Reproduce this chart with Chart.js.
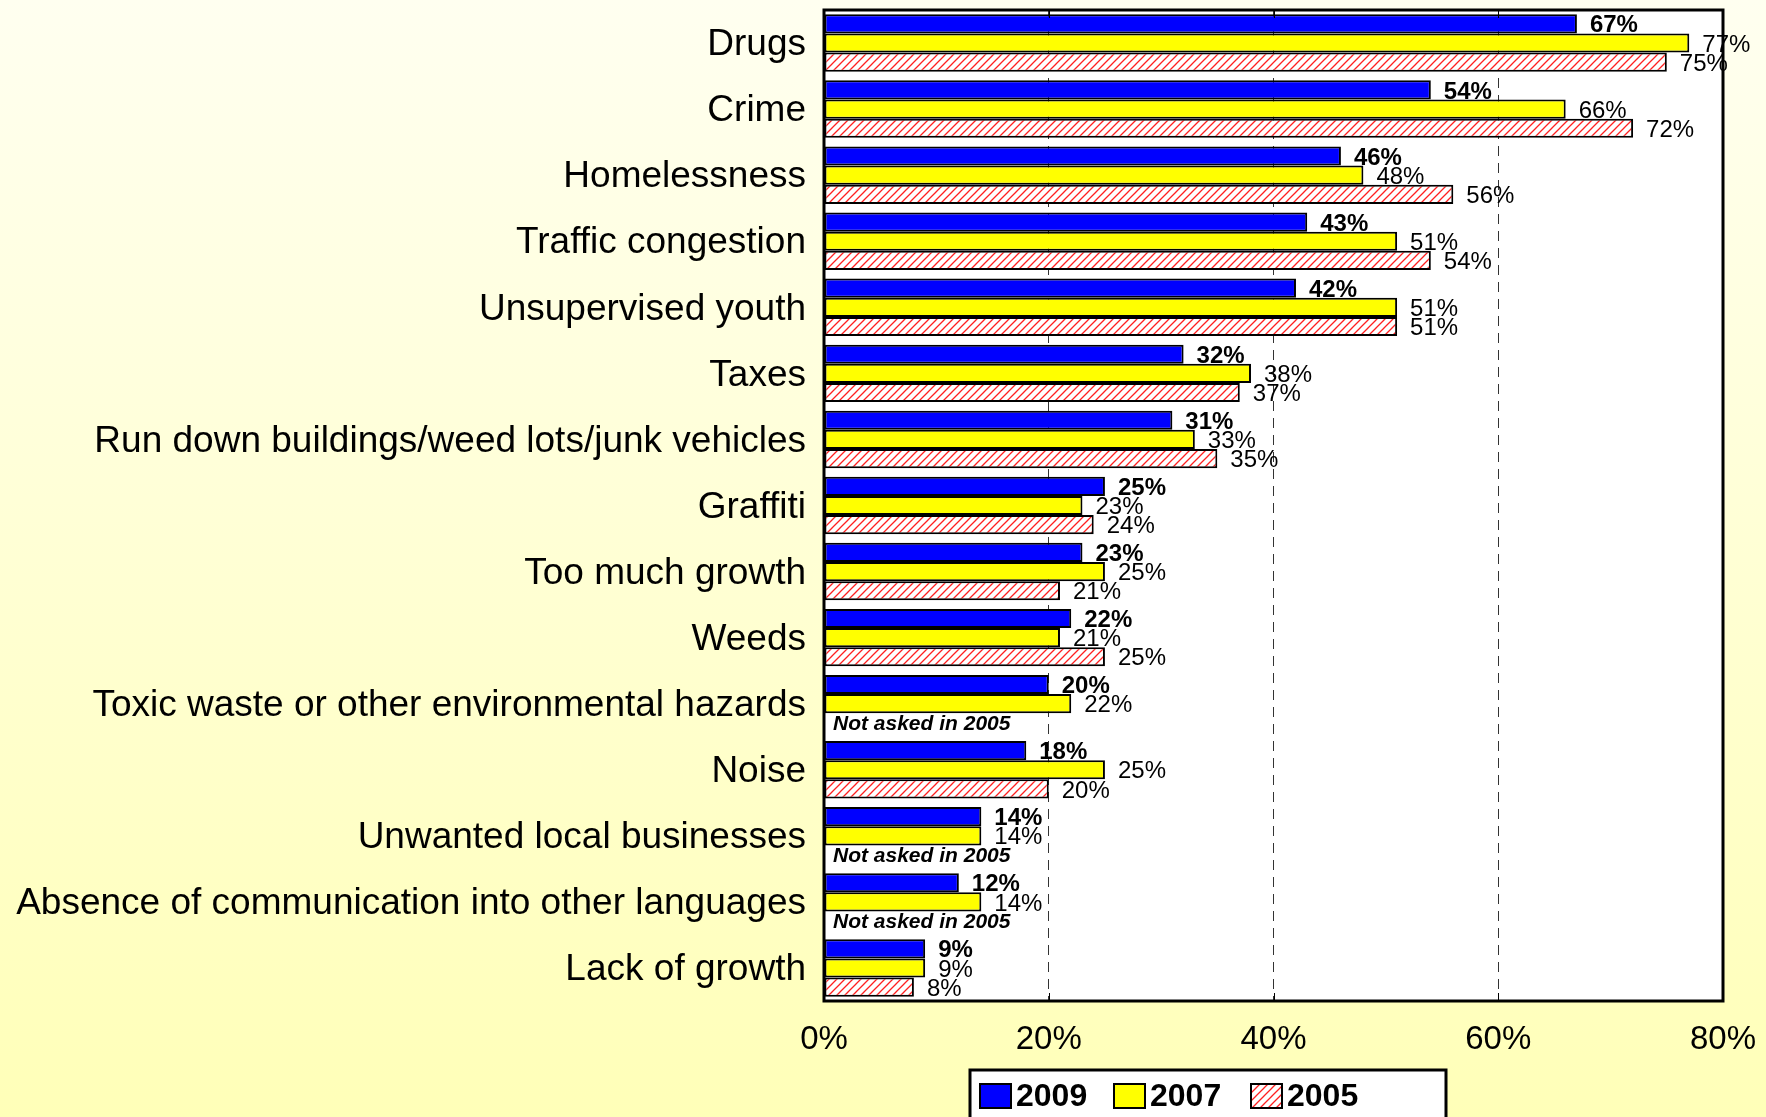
<!DOCTYPE html>
<html>
<head>
<meta charset="utf-8">
<script src="https://cdn.jsdelivr.net/npm/chart.js@4.4.1/dist/chart.umd.min.js"></script>
<style>
  html, body { margin: 0; padding: 0; }
  body { width: 1766px; height: 1117px; overflow: hidden;
         background: linear-gradient(to bottom, #FFFFF0 0%, #FFFFB8 100%); }
  #wrap { position: relative; width: 1766px; height: 1117px; }
</style>
</head>
<body>
<div id="wrap"><canvas id="chart" width="1766" height="1117"></canvas></div>
<script>
// Problems named by residents, share of respondents by survey year
const categories = [
  'Drugs',
  'Crime',
  'Homelessness',
  'Traffic congestion',
  'Unsupervised youth',
  'Taxes',
  'Run down buildings/weed lots/junk vehicles',
  'Graffiti',
  'Too much growth',
  'Weeds',
  'Toxic waste or other environmental hazards',
  'Noise',
  'Unwanted local businesses',
  'Absence of communication into other languages',
  'Lack of growth'
];
const values2009 = [67, 54, 46, 43, 42, 32, 31, 25, 23, 22, 20, 18, 14, 12, 9];
const values2007 = [77, 66, 48, 51, 51, 38, 33, 23, 25, 21, 22, 25, 14, 14, 9];
const values2005 = [75, 72, 56, 54, 51, 37, 35, 24, 21, 25, null, 20, null, null, 8];
const seriesLabels = ['2009', '2007', '2005'];
const xTicks = [0, 20, 40, 60, 80];
const notAskedText = 'Not asked in 2005';

const FONT = '"Liberation Sans", Arial, Helvetica, sans-serif';

// red diagonal hatching on white for the 2005 series
function makeHatch() {
  const s = 8;
  const c = document.createElement('canvas');
  c.width = s; c.height = s;
  const g = c.getContext('2d');
  g.fillStyle = '#FFFFFF';
  g.fillRect(0, 0, s, s);
  g.strokeStyle = '#FF2020';
  g.lineWidth = 1.3;
  g.beginPath();
  g.moveTo(0, s); g.lineTo(s, 0);
  g.moveTo(-s / 2, s / 2); g.lineTo(s / 2, -s / 2);
  g.moveTo(s / 2, s * 1.5); g.lineTo(s * 1.5, s / 2);
  g.stroke();
  return g.createPattern(c, 'repeat');
}
const hatch = makeHatch();

// white plot background, drawn before everything else in the chart area
const plotBackground = {
  id: 'plotBackground',
  beforeDraw(chart) {
    const { ctx, chartArea: a } = chart;
    ctx.save();
    ctx.fillStyle = '#FFFFFF';
    ctx.fillRect(a.left, a.top, a.right - a.left, a.bottom - a.top);
    ctx.restore();
  }
};

// value labels, "not asked" notes, plot frame and legend
const annotations = {
  id: 'annotations',
  afterDatasetsDraw(chart) {
    const { ctx, chartArea: a, scales } = chart;
    ctx.save();
    // frame and inner tick marks
    ctx.strokeStyle = '#000000';
    ctx.lineWidth = 3;
    ctx.strokeRect(a.left, a.top, a.right - a.left, a.bottom - a.top);
    ctx.lineWidth = 1;
    xTicks.slice(1, -1).forEach(v => {
      const x = Math.round(scales.x.getPixelForValue(v)) + 0.5;
      ctx.beginPath();
      ctx.moveTo(x, a.top); ctx.lineTo(x, a.top + 8);
      ctx.moveTo(x, a.bottom); ctx.lineTo(x, a.bottom - 8);
      ctx.stroke();
    });

    ctx.fillStyle = '#000000';
    ctx.textBaseline = 'middle';
    ctx.textAlign = 'left';
    chart.data.datasets.forEach((ds, di) => {
      const meta = chart.getDatasetMeta(di);
      meta.data.forEach((bar, i) => {
        const v = ds.data[i];
        if (v === null || v === undefined) {
          ctx.font = 'italic bold 21px ' + FONT;
          ctx.fillText(notAskedText, a.left + 9, bar.y + 1);
          return;
        }
        ctx.font = (di === 0 ? 'bold ' : '') + '24px ' + FONT;
        ctx.fillText(v + '%', bar.x + 13, bar.y + 2);
      });
    });

    // legend box
    const lx = 970, ly = 1070, lw = 476, lh = 60;
    ctx.fillStyle = '#FFFFFF';
    ctx.fillRect(lx, ly, lw, lh);
    ctx.lineWidth = 3;
    ctx.strokeStyle = '#000000';
    ctx.strokeRect(lx, ly, lw, lh);
    const items = [
      { box: 980, text: 1016 },
      { box: 1114, text: 1150 },
      { box: 1251, text: 1287 }
    ];
    ctx.font = 'bold 32px ' + FONT;
    ctx.textBaseline = 'middle';
    items.forEach((it, k) => {
      const ds = chart.data.datasets[k];
      ctx.fillStyle = ds.backgroundColor;
      ctx.fillRect(it.box, 1084, 31, 24);
      ctx.lineWidth = 2;
      ctx.strokeStyle = '#000000';
      ctx.strokeRect(it.box, 1084, 31, 24);
      ctx.fillStyle = '#000000';
      ctx.fillText(ds.label, it.text, 1097);
    });
    ctx.restore();
  }
};

new Chart(document.getElementById('chart'), {
  type: 'bar',
  data: {
    labels: categories,
    datasets: [
      { label: seriesLabels[0], data: values2009, backgroundColor: '#0000FF' },
      { label: seriesLabels[1], data: values2007, backgroundColor: '#FFFF00' },
      { label: seriesLabels[2], data: values2005, backgroundColor: hatch }
    ]
  },
  options: {
    indexAxis: 'y',
    responsive: false,
    animation: false,
    devicePixelRatio: 1,
    layout: { padding: { top: 10, right: 43, left: 0, bottom: 0 } },
    datasets: {
      bar: {
        borderColor: '#000000',
        borderWidth: 2,
        borderSkipped: false,
        categoryPercentage: 0.87,
        barPercentage: 1.0
      }
    },
    plugins: {
      legend: { display: false },
      tooltip: { enabled: false }
    },
    scales: {
      x: {
        min: 0, max: 80,
        afterFit(scale) {
          scale.height = 116;
          scale.paddingLeft = 0;
          scale.paddingRight = 0;
        },
        afterBuildTicks(scale) { scale.ticks = xTicks.map(v => ({ value: v })); },
        ticks: {
          padding: 19,
          color: '#000000',
          font: { family: FONT, size: 33 },
          callback: v => v + '%'
        },
        grid: {
          drawTicks: false,
          lineWidth: 1,
          color: ctx => (ctx.tick && (ctx.tick.value === 0 || ctx.tick.value === 80)) ? 'rgba(0,0,0,0)' : '#333333'
        },
        border: { display: false, dash: [10, 7] }
      },
      y: {
        afterFit(scale) {
          scale.width = 824;
          scale.paddingTop = 0;
          scale.paddingBottom = 0;
        },
        ticks: {
          padding: 18,
          labelOffset: 2,
          color: '#000000',
          font: { family: FONT, size: 37 }
        },
        grid: { display: false, drawTicks: false },
        border: { display: false }
      }
    }
  },
  plugins: [plotBackground, annotations]
});
</script>
</body>
</html>
